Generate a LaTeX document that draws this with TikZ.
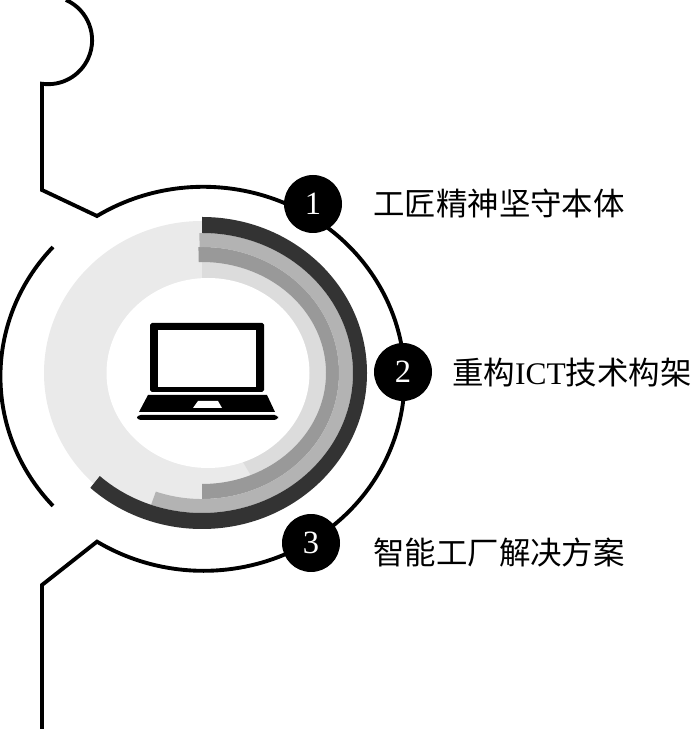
\documentclass[tikz,border=0pt]{standalone}
\usepackage{fontspec}
\usepackage{xcolor}
\usetikzlibrary{calc}
\setmainfont{Liberation Serif}
\newfontfamily\cjk{Noto Sans CJK SC}
\definecolor{ringdark}{HTML}{333333}
\definecolor{ringmid}{HTML}{B3B3B3}
\definecolor{ringgrey}{HTML}{999999}
\definecolor{ringpale}{HTML}{DCDCDC}
\definecolor{ringlight}{HTML}{EAEAEA}
% colour, start, end, outer radii, inner radii
\newcommand{\ringsector}[7]{%
  \fill[#1] ($(ringc)+(#2:#4 and #5)$) arc[start angle=#2, end angle=#3, x radius=#4, y radius=#5]
    -- ($(ringc)+(#3:#6 and #7)$) arc[start angle=#3, end angle=#2, x radius=#6, y radius=#7] -- cycle;}
\begin{document}
\begin{tikzpicture}[
    x=0.02cm, y=0.02cm,
    outline/.style={line width=2.2pt, line join=miter},
    badge/.style={circle, fill=black, text=white, minimum size=1.16cm, inner sep=0pt, font=\fontsize{18.5}{20}\selectfont},
    label/.style={anchor=center, inner sep=0pt, font=\fontsize{17.9}{20}\selectfont}
]
    \useasboundingbox (0,0) rectangle (691,729);
    \coordinate (ringc) at (202,356);

    % Rings
    \fill[ringlight] (ringc) ellipse[x radius=158, y radius=152];
    \ringsector{ringpale}{90}{-66.9}{124}{111}{95}{90}
    \ringsector{ringgrey}{91.5}{-90}{137}{126}{124}{111}
    \ringsector{ringmid}{91}{-109.7}{151}{140}{137}{126}
    \ringsector{ringdark}{90}{-132.6}{165}{156}{151}{140}
    \fill[white] (208,356) ellipse[x radius=101.5, y radius=95];

    % Outline
    \draw[outline] (66,729) arc[start angle=66, end angle=-98, radius=44]
        -- (42,539) -- (97,513)
        arc[start angle=122, end angle=-122, x radius=201, y radius=192]
        -- (42,144) -- (42,0);
    \draw[outline] (53,482) arc[start angle=137.6, end angle=222.4, x radius=201, y radius=192];

    % Laptop
    \fill[black, rounded corners=1pt] (150,406) rectangle (264,337);
    \fill[white] (158,399) rectangle (256,342);
    \fill[black] (148,334) -- (267,334) -- (275,317) -- (139,317) -- cycle;
    \fill[white] (198,328) -- (218,328) -- (222,321) -- (193,321) -- cycle;
    \fill[black, rounded corners=2pt] (137,314) rectangle (278,309);

    % Badges
    \node[badge] (one) at (313,525) {1};
    \node[badge] (two) at (403,357) {2};
    \node[badge] (three) at (311,186) {3};

    % Labels
    \node[label] (craft) at (499,526) {\cjk 工匠精神坚守本体};
    \node[label] (ict) at (572,356) {\cjk 重构{\rmfamily ICT}技术构架};
    \node[label] (plant) at (499,176) {\cjk 智能工厂解决方案};
\end{tikzpicture}
\end{document}
